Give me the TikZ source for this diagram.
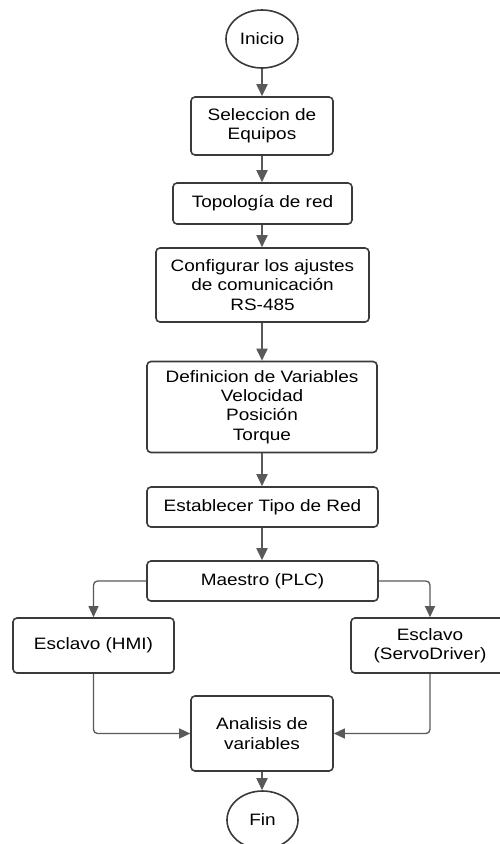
\documentclass[tikz,border=0pt]{standalone}
\usepackage{fontspec}
\setmainfont[FakeStretch=1.15]{Liberation Sans}
\usetikzlibrary{arrows.meta,shapes.geometric}
\definecolor{boxline}{HTML}{3A3A3A}
\definecolor{arrline}{HTML}{595959}
\tikzset{
  box/.style={draw=boxline,line width=1.6pt,rounded corners=4pt,align=center,inner sep=0pt,
    font=\fontsize{16.5}{19.3}\selectfont,text=black},
  term/.style={draw=boxline,line width=1.6pt,ellipse,inner sep=0pt,
    font=\fontsize{16.5}{19.3}\selectfont,text=black},
  arr/.style={draw=arrline,line width=1.8pt,-{Triangle[width=11pt,length=12pt]}},
  arrb/.style={draw=arrline,line width=1.3pt,rounded corners=4pt,-{Triangle[width=10pt,length=11pt]}}
}
\begin{document}
\begin{tikzpicture}[x=1pt,y=-1pt]
\useasboundingbox (0,0) rectangle (500,844);
\node[term,minimum width=72pt,minimum height=58pt] (inicio) at (262,39) {Inicio};
\node[box,minimum width=142pt,minimum height=58pt] (sel) at (262,126) {Seleccion de\\Equipos};
\node[box,minimum width=179pt,minimum height=41pt] (top) at (262.5,203.5) {Topología de red};
\node[box,minimum width=213pt,minimum height=74pt] (conf) at (262.5,285) {Configurar los ajustes\\de comunicación\\RS-485};
\node[box,minimum width=230pt,minimum height=91pt] (def) at (262,407) {Definicion de Variables\\Velocidad\\Posición\\Torque};
\node[box,minimum width=231pt,minimum height=40pt] (est) at (262.5,507) {Establecer Tipo de Red};
\node[box,minimum width=231pt,minimum height=40pt] (mae) at (262.5,581) {Maestro (PLC)};
\node[box,minimum width=161pt,minimum height=55pt] (hmi) at (93.5,645.5) {Esclavo (HMI)};
\node[box,minimum width=158pt,minimum height=55pt] (servo) at (430,645.5) {Esclavo\\(ServoDriver)};
\node[box,minimum width=142pt,minimum height=75pt] (ana) at (262,733.5) {Analisis de\\variables};
\node[term,minimum width=71pt,minimum height=58pt] (fin) at (262.5,820) {Fin};

\draw[arr] (inicio.south) -- (inicio.south |- sel.north);
\draw[arr] (sel.south) -- (sel.south |- top.north);
\draw[arr] (sel.south |- top.south) -- (sel.south |- conf.north);
\draw[arr] (sel.south |- conf.south) -- (sel.south |- def.north);
\draw[arr] (def.south) -- (def.south |- est.north);
\draw[arr] (def.south |- est.south) -- (def.south |- mae.north);
\draw[arrb] (mae.west) -| (hmi.north);
\draw[arrb] (mae.east) -| (servo.north);
\draw[arrb] (hmi.south) |- (ana.west);
\draw[arrb] (servo.south) |- (ana.east);
\draw[arr] (ana.south) -- (ana.south |- fin.north);
\end{tikzpicture}
\end{document}
